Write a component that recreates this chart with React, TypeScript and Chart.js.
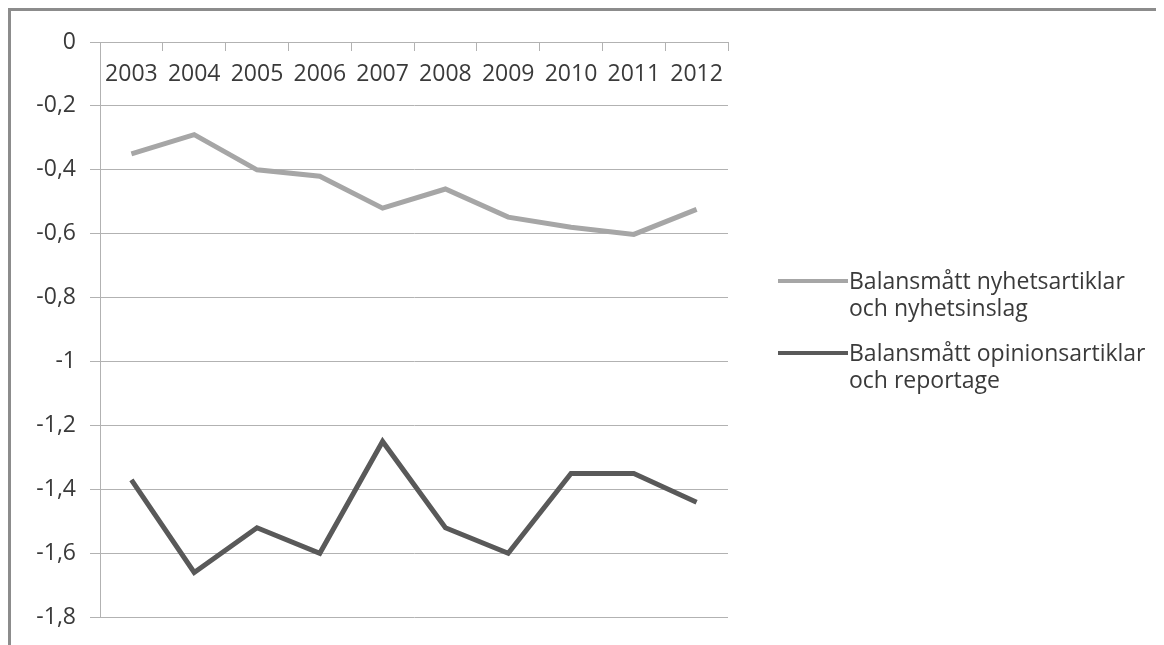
import React, { useEffect, useRef } from "react";
import { Chart, registerables } from "chart.js";

Chart.register(...registerables);

const categories = ["2003", "2004", "2005", "2006", "2007", "2008", "2009", "2010", "2011", "2012"];
const nyhetsValues = [-0.35, -0.29, -0.4, -0.42, -0.52, -0.46, -0.548, -0.58, -0.602, -0.524];
const opinionValues = [-1.37, -1.66, -1.52, -1.6, -1.25, -1.52, -1.6, -1.35, -1.35, -1.44];
const nyhetsLabel = ["Balansmått nyhetsartiklar", "och nyhetsinslag"];
const opinionLabel = ["Balansmått opinionsartiklar", "och reportage"];
const yMin = -1.8;
const yMax = 0;
const yStep = 0.2;

const FONT = "'Open Sans', Lato, sans-serif";
const TEXT = "#3a3a3a";
const GRID = "#b2b2b2";

const legendPlugin = {
  id: "customLegend",
  afterDraw(chart: any) {
    const ctx = chart.ctx;
    const area = chart.chartArea;
    const x0 = area.right + 50;
    const lineLen = 70;
    const entryTops = [270, 342];
    ctx.save();
    chart.data.datasets.forEach((ds: any, i: number) => {
      const y = entryTops[i];
      ctx.strokeStyle = ds.borderColor;
      ctx.lineWidth = 4;
      ctx.lineCap = "butt";
      ctx.beginPath();
      ctx.moveTo(x0, y);
      ctx.lineTo(x0 + lineLen, y);
      ctx.stroke();
      ctx.fillStyle = TEXT;
      ctx.font = `23px ${FONT}`;
      ctx.textAlign = "left";
      ctx.textBaseline = "middle";
      const lines: string[] = ds.legendLines;
      lines.forEach((t, j) => {
        ctx.fillText(t, x0 + lineLen + 1, y + 1 + j * 27);
      });
    });
    ctx.restore();
  },
};

export default function App() {
  const ref = useRef<HTMLCanvasElement | null>(null);
  useEffect(() => {
    if (!ref.current) return;
    const chart = new Chart(ref.current, {
      type: "line",
      data: {
        labels: categories,
        datasets: [
          {
            label: nyhetsLabel.join(" "),
            legendLines: nyhetsLabel,
            data: nyhetsValues,
            borderColor: "#a6a6a6",
            backgroundColor: "#a6a6a6",
            borderWidth: 5,
            pointRadius: 0,
            tension: 0,
          } as any,
          {
            label: opinionLabel.join(" "),
            legendLines: opinionLabel,
            data: opinionValues,
            borderColor: "#595959",
            backgroundColor: "#595959",
            borderWidth: 5,
            pointRadius: 0,
            tension: 0,
          } as any,
        ],
      },
      options: {
        animation: false,
        responsive: false,
        maintainAspectRatio: false,
        layout: { padding: { left: 0, right: 436, top: 31, bottom: 26 } },
        plugins: {
          legend: { display: false },
          tooltip: { enabled: false },
        },
        scales: {
          x: {
            position: { y: 0 } as any,
            offset: true,
            grid: {
              offset: true,
              drawOnChartArea: false,
              drawTicks: true,
              tickLength: 8,
              color: GRID,
            },
            border: { display: true, color: GRID, width: 1 },
            ticks: {
              color: TEXT,
              font: { family: FONT, size: 23 },
              padding: 11,
              maxRotation: 0,
              autoSkip: false,
            },
          },
          y: {
            min: yMin,
            max: yMax,
            afterFit: (s: any) => {
              s.width = 89;
            },
            grid: {
              color: GRID,
              tickLength: 10,
              drawTicks: true,
            },
            border: { display: true, color: GRID, width: 1 },
            ticks: {
              stepSize: yStep,
              color: TEXT,
              padding: 14,
              font: { family: FONT, size: 23 },
              callback: (v: any) => {
                const n = Number(Number(v).toFixed(1));
                return (n === 0 ? "0" : String(n)).replace(".", ",");
              },
            },
          },
        },
      },
      plugins: [legendPlugin],
    });
    return () => chart.destroy();
  }, []);

  return (
    <div
      style={{
        width: 1153,
        height: 634,
        borderTop: "3px solid #8c8c8c",
        borderLeft: "3px solid #8c8c8c",
        background: "#fff",
      }}
    >
      <canvas ref={ref} width={1153} height={634} style={{ display: "block" }} />
    </div>
  );
}
